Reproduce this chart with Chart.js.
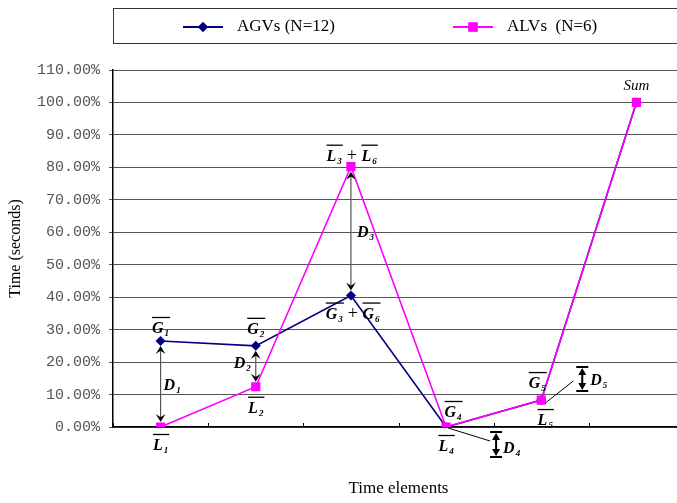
<!DOCTYPE html>
<html>
<head>
<meta charset="utf-8">
<script src="https://cdn.jsdelivr.net/npm/chart.js@4.4.1/dist/chart.umd.min.js"></script>
<style>
html, body { margin: 0; padding: 0; background: #fff; overflow: hidden; }
#wrap { position: relative; width: 700px; height: 503px; }
</style>
</head>
<body>
<div id="wrap"><canvas id="timeChart"></canvas></div>
<script>
// time elements (x categories, unlabeled in the figure)
const elements = ['1', '2', '3', '4', '5', '6'];
// share of total time per element
const agvShare = [0.265, 0.25, 0.405, 0.0, 0.083, 1.0];
const alvShare = [0.0, 0.124, 0.802, 0.0, 0.083, 1.0];
const seriesNames = ['AGVs (N=12)', 'ALVs  (N=6)'];
const yMin = 0, yMax = 1.1, yStep = 0.1;

const SERIF = '"Liberation Serif", "Times New Roman", serif';
const NAVY = '#000080', MAGENTA = '#FF00FF';

// variable with overline + subscript, centered on x, y = middle of letter
function drawVar(ctx, letter, sub, x, y, align) {
    ctx.font = 'italic bold 16px ' + SERIF;
    const w1 = ctx.measureText(letter).width;
    ctx.font = 'italic bold 9px ' + SERIF;
    const w2 = ctx.measureText(sub).width;
    const total = w1 + w2 + 1;
    let sx = align === 'left' ? x : x - total / 2;
    ctx.fillStyle = '#000';
    ctx.textAlign = 'left';
    ctx.textBaseline = 'alphabetic';
    ctx.font = 'italic bold 16px ' + SERIF;
    ctx.fillText(letter, sx, y + 6);
    ctx.font = 'italic bold 9px ' + SERIF;
    ctx.fillText(sub, sx + w1 + 1, y + 9);
    if (letter !== 'D') {
        ctx.strokeStyle = '#000';
        ctx.lineWidth = 1.3;
        ctx.beginPath();
        ctx.moveTo(sx, y - 9.5);
        ctx.lineTo(sx + total + 1, y - 9.5);
        ctx.stroke();
    }
    return total;
}

function drawSum(ctx, a, b, x, y) {
    ctx.font = 'italic bold 16px ' + SERIF;
    const wa = ctx.measureText(a[0]).width + 6;
    ctx.font = '18px ' + SERIF;
    const wp = ctx.measureText(' + ').width;
    const total = wa * 2 + wp;
    let sx = x - total / 2;
    drawVar(ctx, a[0], a[1], sx, y, 'left');
    ctx.font = '18px ' + SERIF;
    ctx.fillStyle = '#000';
    ctx.textAlign = 'left';
    ctx.fillText(' + ', sx + wa, y + 6);
    drawVar(ctx, b[0], b[1], sx + wa + wp, y, 'left');
}

// barbed arrow head, tip at (x,y); dir = 1 points down, -1 points up
function arrowHead(ctx, x, y, dir, s) {
    ctx.beginPath();
    ctx.moveTo(x, y);
    ctx.lineTo(x - s * 0.6, y - dir * s);
    ctx.lineTo(x, y - dir * s * 0.6);
    ctx.lineTo(x + s * 0.6, y - dir * s);
    ctx.closePath();
    ctx.fill();
}

function gapArrow(ctx, x, y1, y2) {
    ctx.strokeStyle = '#555';
    ctx.lineWidth = 1.2;
    ctx.beginPath();
    ctx.moveTo(x, y1 + 2);
    ctx.lineTo(x, y2 - 2);
    ctx.stroke();
    ctx.fillStyle = '#000';
    arrowHead(ctx, x, y1, -1, 8);
    arrowHead(ctx, x, y2, 1, 8);
}

function sizeMark(ctx, x, y1, y2) {
    ctx.strokeStyle = '#000';
    ctx.fillStyle = '#000';
    ctx.lineWidth = 2;
    ctx.beginPath();
    ctx.moveTo(x - 6, y1); ctx.lineTo(x + 6, y1);
    ctx.moveTo(x - 6, y2); ctx.lineTo(x + 6, y2);
    ctx.moveTo(x, y1 + 4); ctx.lineTo(x, y2 - 4);
    ctx.stroke();
    ctx.beginPath();
    ctx.moveTo(x, y1 + 1); ctx.lineTo(x - 4, y1 + 8); ctx.lineTo(x + 4, y1 + 8); ctx.closePath();
    ctx.moveTo(x, y2 - 1); ctx.lineTo(x - 4, y2 - 8); ctx.lineTo(x + 4, y2 - 8); ctx.closePath();
    ctx.fill();
}

function leader(ctx, x1, y1, x2, y2) {
    ctx.strokeStyle = '#000';
    ctx.lineWidth = 1;
    ctx.beginPath();
    ctx.moveTo(x1, y1);
    ctx.lineTo(x2, y2);
    ctx.stroke();
}

const notesPlugin = {
    id: 'notes',
    afterDraw(chart) {
        const { ctx, scales: { x, y } } = chart;
        const px = i => x.getPixelForValue(i);
        const gy = i => y.getPixelForValue(agvShare[i]);
        const ly = i => y.getPixelForValue(alvShare[i]);
        const step = px(1) - px(0);
        ctx.save();

        // inner tick marks on category boundaries
        ctx.strokeStyle = '#000';
        ctx.lineWidth = 1;
        ctx.beginPath();
        for (let k = 0; k <= elements.length; k++) {
            const bx = Math.round(px(0) - step / 2 + k * step) + 0.5;
            ctx.moveTo(bx, y.bottom);
            ctx.lineTo(bx, y.bottom - 4);
        }
        ctx.stroke();

        // legend box
        const leg = chart.data.datasets;
        ctx.strokeStyle = '#333';
        ctx.lineWidth = 1;
        ctx.strokeRect(x.left + 0.5, 8.5, 700, 35);
        const legX = [183, 453];
        leg.forEach((ds, i) => {
            const lx = legX[i], lyy = 27;
            ctx.strokeStyle = ds.borderColor;
            ctx.lineWidth = 2;
            ctx.beginPath();
            ctx.moveTo(lx, lyy); ctx.lineTo(lx + 40, lyy);
            ctx.stroke();
            ctx.fillStyle = ds.borderColor;
            Chart.helpers.drawPoint(ctx, { pointStyle: ds.pointStyle, radius: ds.pointRadius, borderWidth: 0 }, lx + 20, lyy);
            ctx.fill();
            ctx.fillStyle = '#000';
            ctx.font = '17px ' + SERIF;
            ctx.textAlign = 'left';
            ctx.textBaseline = 'middle';
            ctx.fillText(ds.label, lx + 54, lyy);
        });

        // gap arrows between series
        gapArrow(ctx, px(0), gy(0) + 5, ly(0) - 5);
        gapArrow(ctx, px(1), gy(1) + 5, ly(1) - 5);
        gapArrow(ctx, px(2), ly(2) + 5, gy(2) - 5);

        // point labels
        drawVar(ctx, 'G', '1', px(0), gy(0) - 14);
        drawVar(ctx, 'L', '1', px(0), ly(0) + 17);
        drawVar(ctx, 'G', '2', px(1), gy(1) - 18);
        drawVar(ctx, 'L', '2', px(1), ly(1) + 20);
        drawSum(ctx, ['L', '3'], ['L', '6'], px(2) + 1, ly(2) - 12);
        drawSum(ctx, ['G', '3'], ['G', '6'], px(2) + 2, gy(2) + 17);
        drawVar(ctx, 'G', '4', px(3) + 7, gy(3) - 16);
        drawVar(ctx, 'L', '4', px(3), ly(3) + 18);
        drawVar(ctx, 'G', '5', px(4) - 4, gy(4) - 18);
        drawVar(ctx, 'L', '5', px(4) + 4, ly(4) + 19);

        drawVar(ctx, 'D', '1', px(0) + 3, (gy(0) + ly(0)) / 2, 'left');
        drawVar(ctx, 'D', '2', px(1) - 22, (gy(1) + ly(1)) / 2 - 4, 'left');
        drawVar(ctx, 'D', '3', px(2) + 6, (gy(2) + ly(2)) / 2, 'left');

        // size markers for the equal elements
        leader(ctx, px(3) + 2, ly(3) + 1, px(3) + 44, ly(3) + 14);
        sizeMark(ctx, px(3) + 50, ly(3) + 5, ly(3) + 30);
        drawVar(ctx, 'D', '4', px(3) + 57, ly(3) + 20, 'left');
        leader(ctx, px(4) + 4, ly(4) + 3, px(4) + 32, ly(4) - 19);
        sizeMark(ctx, px(4) + 41, ly(4) - 33, ly(4) - 9);
        drawVar(ctx, 'D', '5', px(4) + 49, ly(4) - 21, 'left');

        ctx.fillStyle = '#000';
        ctx.font = 'italic 15px ' + SERIF;
        ctx.textAlign = 'center';
        ctx.textBaseline = 'middle';
        ctx.fillText('Sum', px(5), ly(5) - 16);

        ctx.restore();
    }
};

new Chart(document.getElementById('timeChart'), {
    type: 'line',
    data: {
        labels: elements,
        datasets: [
            {
                label: seriesNames[0], data: agvShare, order: 1,
                borderColor: NAVY, backgroundColor: NAVY, borderWidth: 1.6,
                pointStyle: 'rectRot', pointRadius: 5, pointBorderWidth: 0, tension: 0
            },
            {
                label: seriesNames[1], data: alvShare, order: 0,
                borderColor: MAGENTA, backgroundColor: MAGENTA, borderWidth: 1.6,
                pointStyle: 'rect', pointRadius: 6.5, pointBorderWidth: 0, tension: 0
            }
        ]
    },
    options: {
        responsive: true,
        maintainAspectRatio: false,
        animation: false,
        devicePixelRatio: 1,
        layout: { padding: { top: 70, right: 16, left: 0, bottom: 0 } },
        plugins: { legend: { display: false }, tooltip: { enabled: false } },
        scales: {
            x: {
                offset: true,
                grid: { display: false },
                border: { color: '#000', width: 1.5 },
                ticks: { display: false },
                title: { display: true, text: 'Time elements', color: '#000', font: { family: SERIF, size: 17 }, padding: { top: 0, bottom: 4 } },
                afterFit: s => { s.height = 76; }
            },
            y: {
                min: yMin, max: yMax,
                grid: { color: '#555', lineWidth: 1, tickLength: 4 },
                border: { color: '#000', width: 1.5 },
                ticks: {
                    stepSize: yStep, padding: 9, color: '#555',
                    font: { family: '"Liberation Mono", "Courier New", monospace', size: 15 },
                    callback: v => (v * 100).toFixed(2) + '%'
                },
                title: { display: true, text: 'Time (seconds)', color: '#000', font: { family: SERIF, size: 16 }, padding: { top: 6, bottom: 0 } },
                afterFit: s => { s.width = 113; }
            }
        }
    },
    plugins: [notesPlugin]
});
</script>
</body>
</html>
